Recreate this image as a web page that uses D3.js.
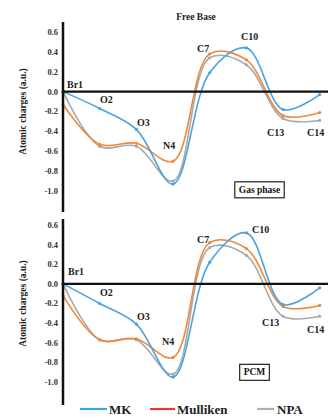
<!DOCTYPE html>
<html><head><meta charset="utf-8">
<script src="https://cdn.jsdelivr.net/npm/d3@7"></script>
<style>body{margin:0;background:#fff;}svg{display:block;font-family:"Liberation Serif","DejaVu Serif",serif;font-weight:bold;}</style>
</head><body><div id="c"></div>
<script>
const atoms = ["Br1","O2","O3","N4","C7","C10","C13","C14"];
const ticks = [0.6,0.4,0.2,0.0,-0.2,-0.4,-0.6,-0.8,-1.0];
// Gas phase
const gasMK       = [0.00,-0.17,-0.38,-0.93,0.19,0.44,-0.18,-0.03];
const gasMulliken = [-0.13,-0.53,-0.52,-0.70,0.38,0.32,-0.24,-0.21];
const gasNPA      = [0.00,-0.55,-0.55,-0.90,0.34,0.27,-0.27,-0.29];
// PCM
const pcmMK       = [0.00,-0.20,-0.41,-0.95,0.22,0.52,-0.21,-0.04];
const pcmMulliken = [-0.12,-0.57,-0.56,-0.75,0.42,0.36,-0.23,-0.22];
const pcmNPA      = [0.00,-0.57,-0.57,-0.92,0.37,0.29,-0.33,-0.33];
const seriesNames = ["MK","Mulliken","NPA"];
const colors = {MK:"#4aa3e0",Mulliken:"#f0883a",NPA:"#a9a9a9"};
const legendColors = {MK:"#3aa6e6",Mulliken:"#e8383a",NPA:"#b0b0b0"};

const W=328,H=418;
const svg=d3.select("#c").append("svg").attr("width",W).attr("height",H);
const x=d3.scalePoint().domain(atoms).range([63,319.7]);

const panels=[
 {data:{MK:gasMK,Mulliken:gasMulliken,NPA:gasNPA}, y:d3.scaleLinear().domain([-1,0.6]).range([191,32]), axis:[22,212], box:"Gas phase", boxX:259.5, boxY:189.5, title:"Free Base",
  labels:{Br1:[67,88,"start"],O2:[100,103,"start"],O3:[137,126,"start"],N4:[163,149,"start"],C7:[197,52,"start"],C10:[241,40,"start"],C13:[267,136,"start"],C14:[307,136,"start"]}},
 {data:{MK:pcmMK,Mulliken:pcmMulliken,NPA:pcmNPA}, y:d3.scaleLinear().domain([-1,0.6]).range([382,225]), axis:[219,405], box:"PCM", boxX:254.5, boxY:372,
  labels:{Br1:[68,275,"start"],O2:[100,296,"start"],O3:[137,320,"start"],N4:[162,345,"start"],C7:[197,243,"start"],C10:[252,233,"start"],C13:[262,326,"start"],C14:[307,333,"start"]}}
];

panels.forEach(p=>{
  const g=svg.append("g");
  ticks.forEach(t=>{
    g.append("text").attr("x",58).attr("y",p.y(t)).attr("dy","0.35em").attr("text-anchor","end")
     .attr("font-size",8.5).attr("fill","#333").text(t.toFixed(1));
  });
  const yc=(p.y(0.6)+p.y(-1))/2;
  g.append("text").attr("transform",`translate(23,${yc}) rotate(-90)`).attr("text-anchor","middle")
   .attr("dy","0.35em").attr("font-size",9.5).attr("fill","#222").text("Atomic charges (a.u.)");
  const line=d3.line().x((d,i)=>x(atoms[i])).y(d=>p.y(d)).curve(d3.curveCatmullRom.alpha(0.5));
  ["NPA","Mulliken","MK"].forEach(s=>{
    g.append("path").attr("d",line(p.data[s])).attr("fill","none").attr("stroke",colors[s]).attr("stroke-width",1.6);
    g.selectAll(null).data(p.data[s]).enter().append("circle")
     .attr("cx",(d,i)=>x(atoms[i])).attr("cy",d=>p.y(d)).attr("r",1.6).attr("fill",colors[s]);
  });
  g.append("line").attr("x1",63).attr("x2",63).attr("y1",p.axis[0]).attr("y2",p.axis[1]).attr("stroke","#111").attr("stroke-width",2.5);
  g.append("line").attr("x1",63).attr("x2",W).attr("y1",p.y(0)).attr("y2",p.y(0)).attr("stroke","#111").attr("stroke-width",2.2);
  atoms.forEach(a=>{
    const l=p.labels[a];
    g.append("text").attr("x",l[0]).attr("y",l[1]).attr("text-anchor",l[2]).attr("font-size",10).attr("fill","#222").text(a);
  });
  const bt=g.append("text").attr("x",p.boxX).attr("y",p.boxY).attr("dy","0.35em").attr("text-anchor","middle")
    .attr("font-size",9.5).attr("fill","#111").text(p.box);
  const bb=bt.node().getBBox();
  g.insert("rect","text").attr("x",bb.x-4).attr("y",bb.y-3).attr("width",bb.width+8).attr("height",bb.height+6)
   .attr("fill","#fff").attr("stroke","#222").attr("stroke-width",1.2);
  if(p.title){
    g.append("text").attr("x",196).attr("y",20).attr("text-anchor","middle").attr("font-size",9.5).attr("fill","#222").text(p.title);
  }
});

const leg=[{s:"MK",x1:80,x2:107,tx:109},{s:"Mulliken",x1:150,x2:175,tx:177},{s:"NPA",x1:257,x2:274,tx:277}];
leg.forEach(l=>{
  svg.append("line").attr("x1",l.x1).attr("x2",l.x2).attr("y1",409).attr("y2",409).attr("stroke",legendColors[l.s]).attr("stroke-width",2.2);
  svg.append("text").attr("x",l.tx).attr("y",409).attr("dy","0.35em").attr("font-size",13).attr("fill","#222").text(l.s);
});
</script></body></html>
